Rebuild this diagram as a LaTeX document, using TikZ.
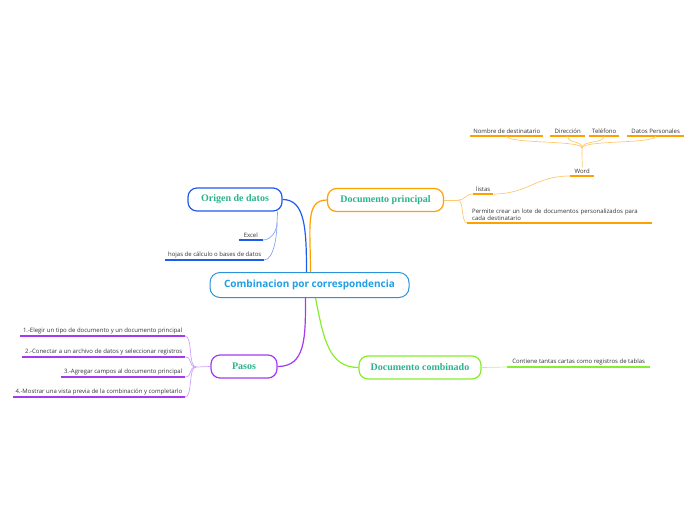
\documentclass[tikz,border=0pt]{standalone}
\usepackage{fontspec}
\setmainfont{Liberation Serif}
\setsansfont{Open Sans}
\usetikzlibrary{positioning}

\definecolor{rootline}{HTML}{2C93DA}
\definecolor{roottext}{HTML}{1E9FE6}
\definecolor{topictext}{HTML}{2BB48C}
\definecolor{bluemain}{HTML}{1E5CF0}
\definecolor{bluesub}{HTML}{86A6F5}
\definecolor{orangemain}{HTML}{FFA000}
\definecolor{orangesub}{HTML}{FFC96E}
\definecolor{purplemain}{HTML}{A43BF2}
\definecolor{purplesub}{HTML}{CFA0F6}
\definecolor{greenmain}{HTML}{86EE2C}
\definecolor{greensub}{HTML}{B9F58A}

\tikzset{
topic/.style={
draw=#1,
line width=1.2pt,
rounded corners=9pt,
fill=white,
minimum height=23pt,
font=\bfseries\fontsize{10}{12}\selectfont,
text=topictext
},
leaf/.style={
inner xsep=2.5pt,
inner ysep=1.8pt,
font=\sffamily\fontsize{6}{7.6}\selectfont,
text=black!80,
append after command={
(\tikzlastnode.south west) edge[draw=#1, line width=1.4pt] (\tikzlastnode.south east)
}
},
branch/.style={draw=#1, line width=1.2pt},
twig/.style={draw=#1, line width=0.7pt}
}

\begin{document}
\begin{tikzpicture}[x=1pt,y=-1pt]

\useasboundingbox (0,0) rectangle (696,520);

%%%%%%%%%%%%%%%%%%%%%%%%%%%%%%%%%%%%%%%%%%%%%%%%%%%%%%%%%%%%%%
% CENTRAL TOPIC
%%%%%%%%%%%%%%%%%%%%%%%%%%%%%%%%%%%%%%%%%%%%%%%%%%%%%%%%%%%%%%

\node[
draw=rootline,
line width=1pt,
rounded corners=10pt,
fill=white,
minimum width=199pt,
minimum height=25pt,
text=roottext,
font=\sffamily\bfseries\fontsize{10}{12}\selectfont
](root)
at (309.5,285)
{Combinacion por correspondencia};

%%%%%%%%%%%%%%%%%%%%%%%%%%%%%%%%%%%%%%%%%%%%%%%%%%%%%%%%%%%%%%
% MAIN TOPICS
%%%%%%%%%%%%%%%%%%%%%%%%%%%%%%%%%%%%%%%%%%%%%%%%%%%%%%%%%%%%%%

\node[topic=bluemain, minimum width=94pt](origen)
at (235,199.5)
{Origen de datos};

\node[topic=orangemain, minimum width=116pt](docprin)
at (385.5,200)
{Documento principal};

\node[topic=purplemain, minimum width=66pt](pasos)
at (244,366.5)
{Pasos};

\node[topic=greenmain, minimum width=122pt](doccomb)
at (420,367.5)
{Documento combinado};

%%%%%%%%%%%%%%%%%%%%%%%%%%%%%%%%%%%%%%%%%%%%%%%%%%%%%%%%%%%%%%
% ORIGEN DE DATOS
%%%%%%%%%%%%%%%%%%%%%%%%%%%%%%%%%%%%%%%%%%%%%%%%%%%%%%%%%%%%%%

\node[leaf=bluemain, minimum width=24pt, anchor=south east](excel)
at (263,240)
{Excel};

\node[leaf=bluemain, anchor=south east](hojas)
at (264,260)
{hojas de cálculo o bases de datos};

\coordinate (ofork) at (277,223);

%%%%%%%%%%%%%%%%%%%%%%%%%%%%%%%%%%%%%%%%%%%%%%%%%%%%%%%%%%%%%%
% DOCUMENTO PRINCIPAL
%%%%%%%%%%%%%%%%%%%%%%%%%%%%%%%%%%%%%%%%%%%%%%%%%%%%%%%%%%%%%%

\node[leaf=orangemain, minimum width=20pt, anchor=south west](listas)
at (473,194)
{listas};

\node[
leaf=orangemain,
anchor=south west,
text width=175pt,
inner xsep=5pt,
align=left
](permite)
at (467,223)
{Permite crear un lote de documentos personalizados para\\cada destinatario};

\node[leaf=orangemain, minimum width=24pt, anchor=south west](word)
at (570,176)
{Word};

\node[leaf=orangemain, minimum width=73pt, anchor=south west](nombre)
at (470,136)
{Nombre de destinatario};

\node[leaf=orangemain, minimum width=35pt, anchor=south west](direccion)
at (550,136)
{Dirección};

\node[leaf=orangemain, minimum width=30pt, anchor=south west](telefono)
at (589,136)
{Teléfono};

\node[leaf=orangemain, minimum width=57pt, anchor=south west](datosper)
at (627,136)
{Datos Personales};

\coordinate (dfork) at (458,200);
\coordinate (wfork) at (582,148);

%%%%%%%%%%%%%%%%%%%%%%%%%%%%%%%%%%%%%%%%%%%%%%%%%%%%%%%%%%%%%%
% PASOS
%%%%%%%%%%%%%%%%%%%%%%%%%%%%%%%%%%%%%%%%%%%%%%%%%%%%%%%%%%%%%%

\node[leaf=purplemain, anchor=south east](paso1)
at (185,336)
{1.-Elegir un tipo de documento y un documento principal};

\node[leaf=purplemain, anchor=south east](paso2)
at (185,357)
{2.-Conectar a un archivo de datos y seleccionar registros};

\node[leaf=purplemain, anchor=south east](paso3)
at (185,377)
{3.-Agregar campos al documento principal};

\node[leaf=purplemain, anchor=south east](paso4)
at (185,397)
{4.-Mostrar una vista previa de la combinación y completarlo};

\coordinate (pfork) at (196,367);

%%%%%%%%%%%%%%%%%%%%%%%%%%%%%%%%%%%%%%%%%%%%%%%%%%%%%%%%%%%%%%
% DOCUMENTO COMBINADO
%%%%%%%%%%%%%%%%%%%%%%%%%%%%%%%%%%%%%%%%%%%%%%%%%%%%%%%%%%%%%%

\node[leaf=greenmain, minimum width=143pt, anchor=south west](contiene)
at (507,367)
{Contiene tantas cartas como registros de tablas};

%%%%%%%%%%%%%%%%%%%%%%%%%%%%%%%%%%%%%%%%%%%%%%%%%%%%%%%%%%%%%%
% CONNECTIONS
%%%%%%%%%%%%%%%%%%%%%%%%%%%%%%%%%%%%%%%%%%%%%%%%%%%%%%%%%%%%%%

\draw[branch=bluemain] (origen.east) .. controls +(22,0) and +(0,-45) .. ([xshift=-3pt]root.north);
\draw[branch=orangemain] ([xshift=1pt]root.north) .. controls +(0,-45) and +(-22,0) .. (docprin.west);
\draw[branch=purplemain] ([xshift=-4pt]root.south) .. controls +(0,40) and +(28,0) .. (pasos.east);
\draw[branch=greenmain] ([xshift=6pt]root.south) .. controls +(8,40) and +(-30,0) .. (doccomb.west);

\draw[twig=bluesub] ([xshift=-5pt]origen.south east) -- (ofork);
\draw[twig=bluesub] (ofork) .. controls +(0,8) and +(8,0) .. (excel.south east);
\draw[twig=bluesub] (ofork) .. controls +(0,12) and +(10,0) .. (hojas.south east);

\draw[twig=orangesub] (docprin.east) -- (dfork);
\draw[twig=orangesub] (dfork) .. controls +(8,0) and +(-8,0) .. (listas.south west);
\draw[twig=orangesub] (dfork) .. controls +(6,0) and +(-6,0) .. (permite.south west);
\draw[twig=orangesub] (listas.south east) .. controls +(35,0) and +(-35,0) .. (word.south west);
\draw[twig=orangesub] (word.north) -- (wfork);
\draw[twig=orangesub] (wfork) .. controls +(0,-8) and +(0,8) .. (nombre.south);
\draw[twig=orangesub] (wfork) .. controls +(0,-8) and +(0,8) .. (direccion.south);
\draw[twig=orangesub] (wfork) .. controls +(0,-8) and +(0,8) .. (telefono.south);
\draw[twig=orangesub] (wfork) .. controls +(0,-8) and +(0,8) .. (datosper.south);

\draw[twig=purplesub] (pasos.west) -- (pfork);
\draw[twig=purplesub] (pfork) .. controls +(-8,0) and +(8,0) .. (paso1.south east);
\draw[twig=purplesub] (pfork) .. controls +(-8,0) and +(8,0) .. (paso2.south east);
\draw[twig=purplesub] (pfork) .. controls +(-8,0) and +(8,0) .. (paso3.south east);
\draw[twig=purplesub] (pfork) .. controls +(-8,0) and +(8,0) .. (paso4.south east);

\draw[twig=greensub] (doccomb.east) -- (contiene.south west);

\end{tikzpicture}
\end{document}
